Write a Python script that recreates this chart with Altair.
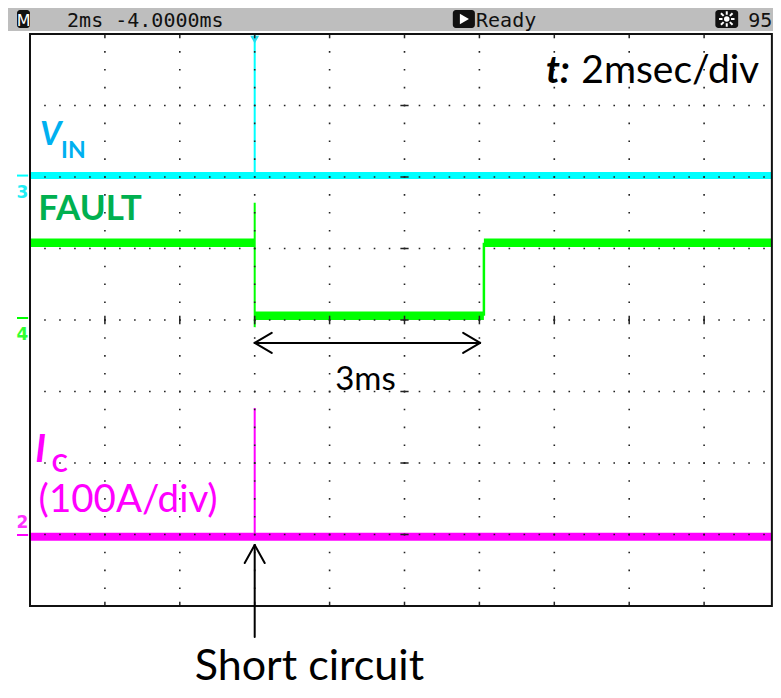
import altair as alt
import pandas as pd

# ---------------- data (x = time in ms, trigger at 0, 2 ms/div; y = screen divisions) ----
X_DOMAIN = [-6, 14]
Y_DOMAIN = [-4, 4]
SCREEN_LEFT = -6.0
SCREEN_RIGHT = 13.81          # visible right edge of the graticule
GRID_X = [-4, -2, 0, 2, 4, 6, 8, 10, 12]
GRID_Y = [-3, -2, -1, 0, 1, 2, 3]

VIN_LEVEL = 2.02
FAULT_HIGH = 1.08
FAULT_LOW = 0.06
FAULT_SPIKE = 1.64
FAULT_FALL_T = 0.0
FAULT_RISE_T = 6.12
IC_LEVEL = -3.03
IC_SPIKE = -1.23
SHORT_T = 0.0

ARROW_Y = -0.32
ARROW_T0 = 0.0
ARROW_T1 = 6.02

CYAN = "#00FFFF"
GREEN = "#00FF00"
MAGENTA = "#FF00FF"

xs = alt.Scale(domain=X_DOMAIN, range=[22, 771], nice=False, zero=False)
ys = alt.Scale(domain=Y_DOMAIN, range=[598, 26], nice=False, zero=False)

XE = alt.X("x:Q", scale=xs, axis=None)
YE = alt.Y("y:Q", scale=ys, axis=None)


def enc_xy(chart):
    return chart.encode(x=XE, y=YE, x2="x2:Q", y2="y2:Q")


def segs(rows, **mk):
    df = pd.DataFrame(rows, columns=["x", "y", "x2", "y2", "c", "w"])
    return alt.Chart(df).mark_rule(**mk).encode(
        x=XE, y=YE, x2="x2:Q", y2="y2:Q",
        color=alt.Color("c:N", scale=None),
        strokeWidth=alt.StrokeWidth("w:Q", scale=None),
    )


def text(rows, **mk):
    df = pd.DataFrame(rows, columns=["x", "y", "t"])
    return alt.Chart(df).mark_text(baseline="alphabetic", **mk).encode(x=XE, y=YE, text="t:N")


def boxes(rows, **mk):
    df = pd.DataFrame(rows, columns=["x", "y", "x2", "y2"])
    return enc_xy(alt.Chart(df).mark_rect(**mk))


def point(xv, yv, **mk):
    return alt.Chart(pd.DataFrame({"x": [xv], "y": [yv]})).mark_point(**mk).encode(x=XE, y=YE)


layers = []

# header bar
layers.append(boxes([[-6.6, 4.042, 14.1, 4.37]], color="#BEBEBE"))
layers.append(boxes([[-6.347, 4.084, -6.0, 4.336], [5.29, 4.084, 5.88, 4.336], [12.30, 4.084, 12.91, 4.336]],
                    color="#111111", cornerRadius=3))
layers.append(text([[-6.17, 4.112, "M"]], align="center", font="DejaVu Sans", fontSize=16, color="white"))
layers.append(text([[-5.01, 4.098, "2ms -4.0000ms"], [5.91, 4.098, "Ready"], [13.18, 4.098, "95"]],
                   align="left", font="DejaVu Sans Mono", fontSize=20, color="#111111"))
layers.append(point(5.6, 4.21, shape="triangle-right", filled=True, size=110, color="white", opacity=1))
# brightness (sun) icon
layers.append(point(12.605, 4.21, shape="circle", filled=True, size=30, color="white", opacity=1))
layers.append(point(12.605, 4.21, shape="M-1,0L-0.55,0M0.55,0L1,0M0,-1L0,-0.55M0,0.55L0,1"
                    "M-0.75,-0.75L-0.4,-0.4M0.4,0.4L0.75,0.75M-0.75,0.75L-0.4,0.4M0.4,-0.4L0.75,-0.75",
                    filled=False, size=240, color="white", strokeWidth=2, opacity=1))

# traces
trace_rows = [
    [SCREEN_LEFT, VIN_LEVEL, SCREEN_RIGHT, VIN_LEVEL, CYAN, 7],
    [SHORT_T, Y_DOMAIN[1], SHORT_T, VIN_LEVEL, CYAN, 2],
    [SCREEN_LEFT, FAULT_HIGH, FAULT_FALL_T, FAULT_HIGH, GREEN, 8.5],
    [FAULT_FALL_T, FAULT_LOW, FAULT_RISE_T, FAULT_LOW, GREEN, 8.5],
    [FAULT_RISE_T, FAULT_HIGH, SCREEN_RIGHT, FAULT_HIGH, GREEN, 8.5],
    [FAULT_FALL_T, FAULT_SPIKE, FAULT_FALL_T, FAULT_LOW - 0.16, GREEN, 2],
    [FAULT_RISE_T, FAULT_LOW, FAULT_RISE_T, FAULT_HIGH, GREEN, 2.5],
    [SCREEN_LEFT, IC_LEVEL, SCREEN_RIGHT, IC_LEVEL, MAGENTA, 8],
    [SHORT_T, IC_SPIKE, SHORT_T, IC_LEVEL, MAGENTA, 2],
]
layers.append(segs(trace_rows))

# trigger marker
layers.append(point(SHORT_T, 3.92, shape="triangle-down", filled=True, size=80, color="#22DDEE", opacity=1))

# graticule (dotted, drawn over the traces)
h_grid = pd.DataFrame({"x": SCREEN_LEFT, "x2": SCREEN_RIGHT, "y": GRID_Y, "y2": GRID_Y})
v_grid = pd.DataFrame({"x": GRID_X, "x2": GRID_X, "y": Y_DOMAIN[1], "y2": Y_DOMAIN[0]})
layers.append(enc_xy(alt.Chart(h_grid).mark_rule(color="#222222", strokeWidth=1.6,
                                                 strokeDash=[1.6, 13.38], strokeDashOffset=0.8)))
layers.append(enc_xy(alt.Chart(v_grid).mark_rule(color="#222222", strokeWidth=1.6,
                                                 strokeDash=[1.6, 16.28], strokeDashOffset=0.8)))

tick_rows = []
for gx in GRID_X:
    tick_rows.append([gx, 4, gx, 3.94, "#222222", 1.5])
    tick_rows.append([gx, -4, gx, -3.94, "#222222", 1.5])
    tick_rows.append([gx, 0.06, gx, -0.06, "#222222", 1.5])
for gy in GRID_Y:
    tick_rows.append([3.89, gy, 4.11, gy, "#222222", 1.5])
layers.append(segs(tick_rows))

# screen border
layers.append(boxes([[SCREEN_LEFT, Y_DOMAIN[0], SCREEN_RIGHT, Y_DOMAIN[1]]],
                    fill="transparent", stroke="#111111", strokeWidth=2))

# channel markers
mk_rows = [
    [-6.347, VIN_LEVEL, -6.05, VIN_LEVEL, CYAN, 2],
    [-6.347, 0.028, -6.05, 0.028, GREEN, 2],
    [-6.347, -3.007, -6.05, -3.007, MAGENTA, 2],
]
layers.append(segs(mk_rows))
layers.append(text([[-6.2, 1.706, "3"]], align="center", font="DejaVu Sans", fontSize=17, fontWeight="bold", color="#22EEF5"))
layers.append(text([[-6.2, -0.28, "4"]], align="center", font="DejaVu Sans", fontSize=17, fontWeight="bold", color="#33FF33"))
layers.append(text([[-6.2, -2.909, "2"]], align="center", font="DejaVu Sans", fontSize=17, fontWeight="bold", color="#FF33FF"))

# arrows
AH_DX = 0.454
AH_DY = 0.14
UP_TIP = -3.147
UP_ARM = -3.399
UP_TAIL = -4.434
UP_DX = 0.267
arrow_rows = [
    [ARROW_T0, ARROW_Y, ARROW_T1, ARROW_Y, "#000000", 2],
    [ARROW_T0, ARROW_Y, ARROW_T0 + AH_DX, ARROW_Y + AH_DY, "#000000", 2],
    [ARROW_T0, ARROW_Y, ARROW_T0 + AH_DX, ARROW_Y - AH_DY, "#000000", 2],
    [ARROW_T1, ARROW_Y, ARROW_T1 - AH_DX, ARROW_Y + AH_DY, "#000000", 2],
    [ARROW_T1, ARROW_Y, ARROW_T1 - AH_DX, ARROW_Y - AH_DY, "#000000", 2],
    [SHORT_T, UP_TIP, SHORT_T, UP_TAIL, "#000000", 2],
    [SHORT_T, UP_TIP, SHORT_T - UP_DX, UP_ARM, "#000000", 2],
    [SHORT_T, UP_TIP, SHORT_T + UP_DX, UP_ARM, "#000000", 2],
]
layers.append(segs(arrow_rows, strokeCap="round"))

# annotations
F = "Lato"
layers.append(text([[7.78, 3.315, "t:"]], align="left", font=F, fontSize=38, fontWeight="bold", fontStyle="italic", color="#000000"))
layers.append(text([[8.72, 3.315, "2msec/div"]], align="left", font=F, fontSize=39, color="#000000"))
layers.append(text([[-5.73, 2.448, "V"]], align="left", font=F, fontSize=33, fontWeight="bold", fontStyle="italic", color="#00B0F0"))
layers.append(text([[-5.17, 2.266, "IN"]], align="left", font=F, fontSize=23, fontWeight="bold", color="#00B0F0"))
layers.append(text([[-5.78, 1.399, "FAULT"]], align="left", font=F, fontSize=35, fontWeight="bold", color="#00B050"))
layers.append(text([[-5.86, -1.986, "I"]], align="left", font=F, fontSize=38, fontWeight="bold", fontStyle="italic", color=MAGENTA))
layers.append(text([[-5.42, -2.126, "C"]], align="left", font=F, fontSize=24, fontWeight="bold", color=MAGENTA))
layers.append(text([[-5.77, -2.685, "(100A/div)"]], align="left", font=F, fontSize=38.5, color=MAGENTA))
layers.append(text([[2.15, -0.979, "3ms"]], align="left", font=F, fontSize=33, color="#000000"))
layers.append(text([[-1.60, -5.04, "Short circuit"]], align="left", font=F, fontSize=43, color="#000000"))

chart = alt.layer(*layers).properties(
    width=765, height=682, autosize=alt.AutoSizeParams(type="none"), padding=0, background="white"
).configure_view(stroke=None)

chart.save("out.html", embed_options={"renderer": "svg", "actions": False})
